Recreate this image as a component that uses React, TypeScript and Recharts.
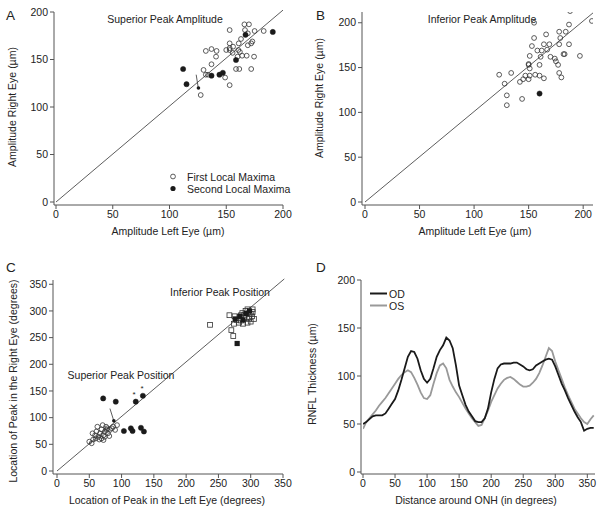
import React from 'react';
import { ScatterChart, Scatter, XAxis, YAxis, ReferenceLine, ReferenceDot, LineChart, Line } from 'recharts';

const FONT = '"Liberation Sans", Arial, Helvetica, sans-serif';
const INK = '#222';
const AXIS = '#555';
const FS = 10.5;

// ---------- Panel A: Superior peak amplitude ----------
const aFirstX = [153, 166, 170, 166.5, 175, 183, 169, 163, 172, 173, 169, 161, 153, 153, 156, 153, 150, 132, 137, 141.5, 141, 160.6, 162, 155.6, 160, 164, 168, 174.5, 137, 158.6, 161.5, 172, 130, 132, 134, 149, 153, 127.5];
const aFirstY = [181, 187, 187, 181, 180, 180, 177.5, 171.6, 167, 169, 165, 167, 167, 162, 163.5, 160, 160, 159, 161, 159, 153, 160, 158, 157, 153, 154, 154, 153, 145, 140, 140, 140, 139, 134, 134, 131, 123, 112.6];
const aSecondX = [112, 115, 137, 144, 147, 158.6, 167, 191];
const aSecondY = [140, 124, 133, 134, 136, 149.5, 176, 179];
const aTicks = [0, 50, 100, 150, 200];

// ---------- Panel B: Inferior peak amplitude ----------
const bFirstX = [188, 208, 155, 187, 178, 184, 166, 155, 179, 164, 169, 178, 187, 153, 158, 162, 167, 151, 161, 170, 174, 182, 183, 197, 150, 150, 160, 177, 175, 151, 180, 178, 123, 134, 147, 151, 156, 160, 164, 142, 145, 150, 128, 130, 144, 130];
const bFirstY = [213, 202, 200, 198, 190, 190, 187, 183, 183, 176, 176, 176, 176, 174, 169, 169, 170, 163, 162, 162, 160, 165, 165, 163, 153, 154, 153, 153, 157, 149, 139, 144, 142, 144, 141, 141, 142, 141, 138, 134, 137, 137, 132, 119, 115, 108];
const bSecondX = [160];
const bSecondY = [121];
const bTicks = [0, 50, 100, 150, 200];

// ---------- Panel C: Peak positions ----------
const cSupOpenX = [50, 53.7, 56, 59, 61, 64, 66.6, 69, 70.7, 72, 74, 77, 79, 82, 85, 90, 93, 65.5, 60, 55, 62.5, 69, 76, 81, 87, 72, 78, 74];
const cSupOpenY = [55, 52, 59, 67, 74, 64, 70.6, 78, 86, 67, 74, 77, 70.6, 77, 80, 77, 86, 59, 61, 70.6, 83, 61, 83, 65.5, 83, 58, 80, 64];
const cSupFilledX = [71.5, 91, 122, 133, 103.6, 114.4, 117, 130, 134.6];
const cSupFilledY = [136, 130, 130, 141, 75, 80, 75, 81, 74];
const cInfOpenX = [237, 267, 274, 270, 273, 275, 278, 282, 285, 287, 290, 292, 295, 297, 300, 302, 303, 305, 300, 295, 288, 285, 290, 298, 303];
const cInfOpenY = [274, 292, 276, 264, 253, 290, 283, 278, 292, 296, 288, 300, 303, 285, 295, 290, 298, 285, 280, 278, 276, 282, 293, 288, 303];
const cInfFilledX = [279, 276, 283, 288, 293, 298];
const cInfFilledY = [239, 285, 290, 283, 295, 300];
const cTicks = [0, 50, 100, 150, 200, 250, 300, 350];

// ---------- Panel D: RNFL thickness profile ----------
const dDegrees = [0, 5, 10, 15, 20, 25, 30, 35, 40, 45, 50, 55, 60, 65, 70, 75, 80, 85, 90, 95, 100, 105, 110, 115, 120, 125, 130, 135, 140, 145, 150, 155, 160, 165, 170, 175, 180, 185, 190, 195, 200, 205, 210, 215, 220, 225, 230, 235, 240, 245, 250, 255, 260, 265, 270, 275, 280, 285, 290, 295, 300, 305, 310, 315, 320, 325, 330, 335, 340, 345, 350, 355, 360];
const dOD = [50, 52, 55, 58, 59, 59, 59, 61, 66, 71, 76, 85, 96, 108, 120, 126, 125, 118, 106, 97, 93, 97, 108, 120, 127, 132, 140, 137, 129, 111, 90, 80, 70, 63, 58, 53, 52, 52, 56, 66, 83, 97, 108, 112, 113, 113, 113, 114, 114, 112, 110, 107, 106, 107, 111, 113, 115, 117, 118, 117, 110, 101, 92, 85, 77, 70, 63, 57, 52, 43, 45, 46, 46];
const dOS = [45, 52, 56, 60, 64, 69, 73, 77, 82, 87, 92, 97, 101, 104, 106, 104, 98, 91, 83, 77, 76, 80, 92, 103, 111, 113, 108, 96, 89, 83, 78, 72, 66, 61, 56, 52, 48, 49, 56, 64, 73, 80, 87, 92, 96, 98, 99, 97, 94, 91, 89, 89, 90, 93, 97, 103, 111, 120, 129, 126, 115, 106, 97, 88, 80, 73, 66, 61, 56, 52, 50, 55, 59];
const dXTicks = [0, 50, 100, 150, 200, 250, 300, 350];
const dYTicks = [0, 50, 100, 150, 200];

const pts = (xs: number[], ys: number[]) => xs.map((x, i) => ({ x, y: ys[i] }));
const dRows = dDegrees.map((deg, i) => ({ deg, od: dOD[i], os: dOS[i] }));

const OpenCircle = (p: any) => <circle cx={p.cx} cy={p.cy} r={2.4} fill="none" stroke="#333" strokeWidth={0.8} />;
const FilledCircle = (p: any) => <circle cx={p.cx} cy={p.cy} r={2.6} fill="#1a1a1a" stroke="#1a1a1a" strokeWidth={0.5} />;
const OpenSquare = (p: any) => <rect x={p.cx - 2.4} y={p.cy - 2.4} width={4.8} height={4.8} fill="none" stroke="#333" strokeWidth={0.8} />;
const FilledSquare = (p: any) => <rect x={p.cx - 2.6} y={p.cy - 2.6} width={5.2} height={5.2} fill="#1a1a1a" />;

const tickStyle = { fontSize: FS, fill: INK, fontFamily: FONT };
const axisCommon = {
  tickSize: 4,
  tickLine: { stroke: AXIS },
  axisLine: { stroke: AXIS },
  tick: tickStyle,
  interval: 0 as const,
};

const T = (props: any) => (
  <text fontFamily={FONT} fontSize={FS} fill={INK} {...props} />
);
const VT = ({ x, y, children }: any) => (
  <text fontFamily={FONT} fontSize={FS} fill={INK} textAnchor="middle" transform={`translate(${x},${y}) rotate(-90)`}>{children}</text>
);
const Letter = ({ x, y, children }: any) => (
  <text fontFamily={FONT} fontSize={13.5} fill={INK} x={x} y={y}>{children}</text>
);

const annA = () => (
  <g>
    <Letter x={6} y={20}>A</Letter>
    <T x={165} y={23} textAnchor="middle">Superior Peak Amplitude</T>
    <circle cx={173} cy={176.5} r={2.4} fill="none" stroke="#333" strokeWidth={0.8} />
    <T x={187} y={180.5}>First Local Maxima</T>
    <circle cx={173} cy={188.5} r={2.6} fill="#1a1a1a" />
    <T x={187} y={192.5}>Second Local Maxima</T>
    <T x={168} y={235} textAnchor="middle">Amplitude Left Eye (µm)</T>
    <VT x={16} y={107}>Amplitude Right Eye (µm)</VT>
  </g>
);
const annB = () => (
  <g>
    <Letter x={16} y={20}>B</Letter>
    <T x={182} y={23} textAnchor="middle">Inferior Peak Amplitude</T>
    <T x={175} y={235} textAnchor="middle">Amplitude Left Eye (µm)</T>
    <VT x={23} y={98}>Amplitude Right Eye (µm)</VT>
  </g>
);
const annC = () => (
  <g>
    <Letter x={6} y={17}>C</Letter>
    <T x={220} y={41} textAnchor="middle">Inferior Peak Position</T>
    <T x={121} y={124} textAnchor="middle">Superior Peak Position</T>
    <T x={134} y={142} textAnchor="middle" fontSize={8}>*</T>
    <T x={142} y={136} textAnchor="middle" fontSize={8}>*</T>
    <T x={167} y={249} textAnchor="middle">Location of Peak in the Left Eye (degrees)</T>
    <VT x={17} y={126}>Location of Peak in the Right Eye (degrees)</VT>
  </g>
);
const annD = () => (
  <g>
    <Letter x={16} y={17}>D</Letter>
    <line x1={70} x2={87} y1={38.5} y2={38.5} stroke="#1a1a1a" strokeWidth={2} />
    <T x={89} y={42.5}>OD</T>
    <line x1={70} x2={87} y1={50.5} y2={50.5} stroke="#999" strokeWidth={2} />
    <T x={89} y={54.5}>OS</T>
    <T x={176} y={249} textAnchor="middle">Distance around ONH (in degrees)</T>
    <VT x={16} y={119}>RNFL Thickness (µm)</VT>
  </g>
);

export default function App() {
  return (
    <div style={{ position: 'absolute', left: 0, top: 0, width: 603, height: 514, background: '#fff', fontFamily: FONT }}>
      {/* Panel A */}
      <div style={{ position: 'absolute', left: 0, top: 0 }}>
        <ScatterChart width={300} height={250} margin={{ top: 12, right: 17, bottom: 25, left: 24 }}>
          <XAxis type="number" dataKey="x" domain={[0, 200]} ticks={aTicks} height={20} padding={{ left: 2, right: 0 }} allowDataOverflow label={annA} {...axisCommon} />
          <YAxis type="number" dataKey="y" domain={[0, 200]} ticks={aTicks} width={30} padding={{ top: 0, bottom: 3 }} allowDataOverflow {...axisCommon} />
          <ReferenceLine segment={[{ x: 0, y: 0 }, { x: 200, y: 202 }]} stroke="#333" strokeWidth={0.8} ifOverflow="visible" />
          <ReferenceLine segment={[{ x: 123.5, y: 134 }, { x: 125.5, y: 119 }]} stroke="#333" strokeWidth={0.8} ifOverflow="visible" />
          <ReferenceDot x={125.5} y={120} r={1.8} fill="#1a1a1a" stroke="none" ifOverflow="visible" />
          <Scatter data={pts(aFirstX, aFirstY)} shape={OpenCircle} isAnimationActive={false} />
          <Scatter data={pts(aSecondX, aSecondY)} shape={FilledCircle} isAnimationActive={false} />
        </ScatterChart>
      </div>
      {/* Panel B */}
      <div style={{ position: 'absolute', left: 300, top: 0 }}>
        <ScatterChart width={303} height={250} margin={{ top: 12, right: 10, bottom: 25, left: 32 }}>
          <XAxis type="number" dataKey="x" domain={[0, 209]} ticks={bTicks} height={20} padding={{ left: 3, right: 0 }} allowDataOverflow label={annB} {...axisCommon} />
          <YAxis type="number" dataKey="y" domain={[0, 212]} ticks={bTicks} width={30} padding={{ top: 0, bottom: 3 }} allowDataOverflow {...axisCommon} />
          <ReferenceLine segment={[{ x: 0, y: 0 }, { x: 209, y: 211 }]} stroke="#333" strokeWidth={0.8} ifOverflow="visible" />
          <Scatter data={pts(bFirstX, bFirstY)} shape={OpenCircle} isAnimationActive={false} />
          <Scatter data={pts(bSecondX, bSecondY)} shape={FilledCircle} isAnimationActive={false} />
        </ScatterChart>
      </div>
      {/* Panel C */}
      <div style={{ position: 'absolute', left: 0, top: 255 }}>
        <ScatterChart width={300} height={259} margin={{ top: 25, right: 17, bottom: 20, left: 23 }}>
          <XAxis type="number" dataKey="x" domain={[0, 350]} ticks={cTicks} height={20} padding={{ left: 4, right: 0 }} allowDataOverflow label={annC} {...axisCommon} />
          <YAxis type="number" dataKey="y" domain={[0, 358]} ticks={cTicks} width={30} padding={{ top: 0, bottom: 3 }} allowDataOverflow {...axisCommon} />
          <ReferenceLine segment={[{ x: 0, y: 0 }, { x: 352, y: 360 }]} stroke="#333" strokeWidth={0.8} ifOverflow="visible" />
          <ReferenceLine segment={[{ x: 82, y: 117 }, { x: 88, y: 94 }]} stroke="#333" strokeWidth={0.8} ifOverflow="visible" />
          <ReferenceDot x={88} y={94} r={1.8} fill="#1a1a1a" stroke="none" ifOverflow="visible" />
          <Scatter data={pts(cSupOpenX, cSupOpenY)} shape={OpenCircle} isAnimationActive={false} />
          <Scatter data={pts(cSupFilledX, cSupFilledY)} shape={FilledCircle} isAnimationActive={false} />
          <Scatter data={pts(cInfOpenX, cInfOpenY)} shape={OpenSquare} isAnimationActive={false} />
          <Scatter data={pts(cInfFilledX, cInfFilledY)} shape={FilledSquare} isAnimationActive={false} />
        </ScatterChart>
      </div>
      {/* Panel D */}
      <div style={{ position: 'absolute', left: 300, top: 255 }}>
        <LineChart width={303} height={259} data={dRows} margin={{ top: 25, right: 8, bottom: 20, left: 31 }}>
          <XAxis type="number" dataKey="deg" domain={[0, 362]} ticks={dXTicks} height={20} padding={{ left: 2, right: 0 }} allowDataOverflow label={annD} {...axisCommon} />
          <YAxis type="number" domain={[0, 200]} ticks={dYTicks} width={30} padding={{ top: 0, bottom: 2 }} allowDataOverflow {...axisCommon} />
          <Line type="linear" dataKey="os" stroke="#999" strokeWidth={1.8} dot={false} isAnimationActive={false} />
          <Line type="linear" dataKey="od" stroke="#1a1a1a" strokeWidth={1.8} dot={false} isAnimationActive={false} />
        </LineChart>
      </div>
    </div>
  );
}
